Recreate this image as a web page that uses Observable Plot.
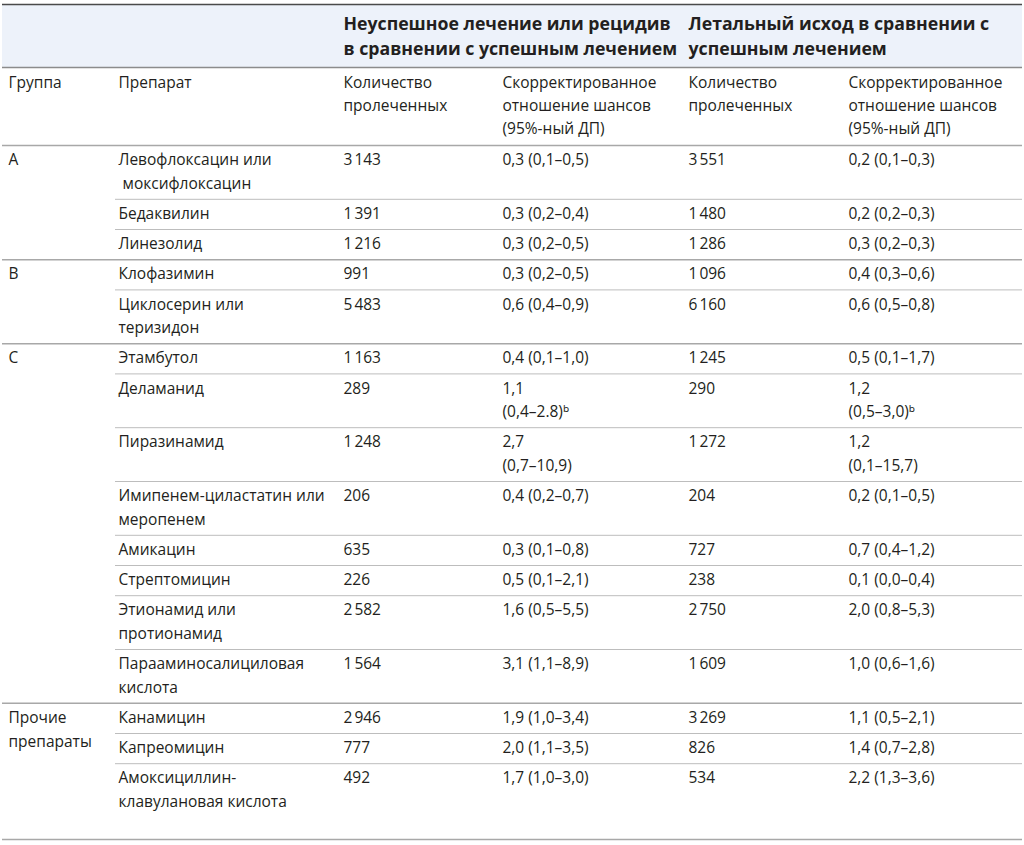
<!DOCTYPE html>
<html><head><meta charset="utf-8">
<script src="https://cdn.jsdelivr.net/npm/d3@7"></script>
<script src="https://cdn.jsdelivr.net/npm/@observablehq/plot@0.6"></script>
<style>body{margin:0;background:#fff}</style>
</head><body><div id="chart"></div>
<script>
// ---------- data ----------
const spanHeaders = ["Неуспешное лечение или рецидив\nв сравнении с успешным лечением", "Летальный исход в сравнении с\nуспешным лечением"];
const colHeaders = ["Группа", "Препарат", "Количество\nпролеченных", "Скорректированное\nотношение шансов\n(95%-ный ДП)", "Количество\nпролеченных", "Скорректированное\nотношение шансов\n(95%-ный ДП)"];
const groupOf = ["A","A","A","B","B","C","C","C","C","C","C","C","C","Прочие\nпрепараты","Прочие\nпрепараты","Прочие\nпрепараты"];
const drug = ["Левофлоксацин или\n моксифлоксацин", "Бедаквилин", "Линезолид", "Клофазимин", "Циклосерин или\nтеризидон", "Этамбутол", "Деламанид", "Пиразинамид", "Имипенем-циластатин или\nмеропенем", "Амикацин", "Стрептомицин", "Этионамид или\nпротионамид", "Парааминосалициловая\nкислота", "Канамицин", "Капреомицин", "Амоксициллин-\nклавулановая кислота"];
const n1 = [3143, 1391, 1216, 991, 5483, 1163, 289, 1248, 206, 635, 226, 2582, 1564, 2946, 777, 492];
const or1 = ["0,3 (0,1–0,5)", "0,3 (0,2–0,4)", "0,3 (0,2–0,5)", "0,3 (0,2–0,5)", "0,6 (0,4–0,9)", "0,4 (0,1–1,0)", "1,1\n(0,4–2.8)ᵇ", "2,7\n(0,7–10,9)", "0,4 (0,2–0,7)", "0,3 (0,1–0,8)", "0,5 (0,1–2,1)", "1,6 (0,5–5,5)", "3,1 (1,1–8,9)", "1,9 (1,0–3,4)", "2,0 (1,1–3,5)", "1,7 (1,0–3,0)"];
const n2 = [3551, 1480, 1286, 1096, 6160, 1245, 290, 1272, 204, 727, 238, 2750, 1609, 3269, 826, 534];
const or2 = ["0,2 (0,1–0,3)", "0,2 (0,2–0,3)", "0,3 (0,2–0,3)", "0,4 (0,3–0,6)", "0,6 (0,5–0,8)", "0,5 (0,1–1,7)", "1,2\n(0,5–3,0)ᵇ", "1,2\n(0,1–15,7)", "0,2 (0,1–0,5)", "0,7 (0,4–1,2)", "0,1 (0,0–0,4)", "2,0 (0,8–5,3)", "1,0 (0,6–1,6)", "1,1 (0,5–2,1)", "1,4 (0,7–2,8)", "2,2 (1,3–3,6)"];

// ---------- layout ----------
const W = 1024, H = 845;
const FONT = "'Open Sans', 'Noto Sans', sans-serif";
const FS = 15.5;
const colX = [8, 118, 343, 502, 688, 848];
const spanX = [343, 688];
const lineStep = 23.6, rowPad = 6.6;
const bandTop = 4, bandBottom = 67, headBottom = 145;
const textColor = "#231f20";

const fmt = d3.formatLocale({decimal: ",", thousands: "\u202F", grouping: [3], currency: ["", ""]}).format(",d");

const cells = [];
const rules = [];
let rowTop = headBottom;
drug.forEach((d, i) => {
  const vals = [d, fmt(n1[i]), or1[i], fmt(n2[i]), or2[i]];
  const lines = d3.max(vals, v => v.split("\n").length);
  const firstOfGroup = i === 0 || groupOf[i - 1] !== groupOf[i];
  if (firstOfGroup) cells.push({x: colX[0], y: rowTop + 3, text: groupOf[i]});
  vals.forEach((v, j) => cells.push({x: colX[j + 1], y: rowTop + 3, text: v}));
  rowTop += rowPad + lineStep * lines;
  const last = i === drug.length - 1;
  const groupEnd = last || groupOf[i + 1] !== groupOf[i];
  if (last) rowTop += 22;
  rules.push({y: rowTop, x1: groupEnd ? 2 : 115, x2: 1022, stroke: groupEnd ? "#a8a8a8" : "#bdbdbd", w: groupEnd ? 1.5 : 1});
});
rules.push({y: bandTop, x1: 2, x2: 1022, stroke: "#4a4a4a", w: 1.6});
rules.push({y: bandBottom, x1: 2, x2: 1022, stroke: "#8c8c8c", w: 1.4});
rules.push({y: headBottom, x1: 2, x2: 1022, stroke: "#a8a8a8", w: 1.5});

const headCells = colHeaders.map((t, j) => ({x: colX[j], y: 71, text: t}));
const spanCells = spanHeaders.map((t, j) => ({x: spanX[j], y: 12, text: t}));

const chart = Plot.plot({
  width: W, height: H,
  margin: 0,
  x: {domain: [0, W], range: [0, W], axis: null},
  y: {domain: [0, H], range: [0, H], axis: null},
  style: {fontFamily: FONT, background: "#fff"},
  marks: [
    Plot.rect([{}], {x1: 2, x2: 1022, y1: bandTop, y2: bandBottom, fill: "#edf2fa"}),
    Plot.ruleY(rules, {y: "y", x1: "x1", x2: "x2", stroke: "stroke", strokeWidth: "w"}),
    Plot.text(spanCells, {x: "x", y: "y", text: "text", textAnchor: "start", lineAnchor: "top", fontSize: 17.7, fontWeight: "bold", lineHeight: 25/17.7, fill: textColor}),
    Plot.text(headCells, {x: "x", y: "y", text: "text", textAnchor: "start", lineAnchor: "top", fontSize: FS, lineHeight: 23/FS, fill: textColor}),
    Plot.text(cells, {x: "x", y: "y", text: "text", textAnchor: "start", lineAnchor: "top", fontSize: FS, lineHeight: lineStep/FS, fill: textColor})
  ]
});
document.getElementById("chart").append(chart);
</script>
</body></html>
